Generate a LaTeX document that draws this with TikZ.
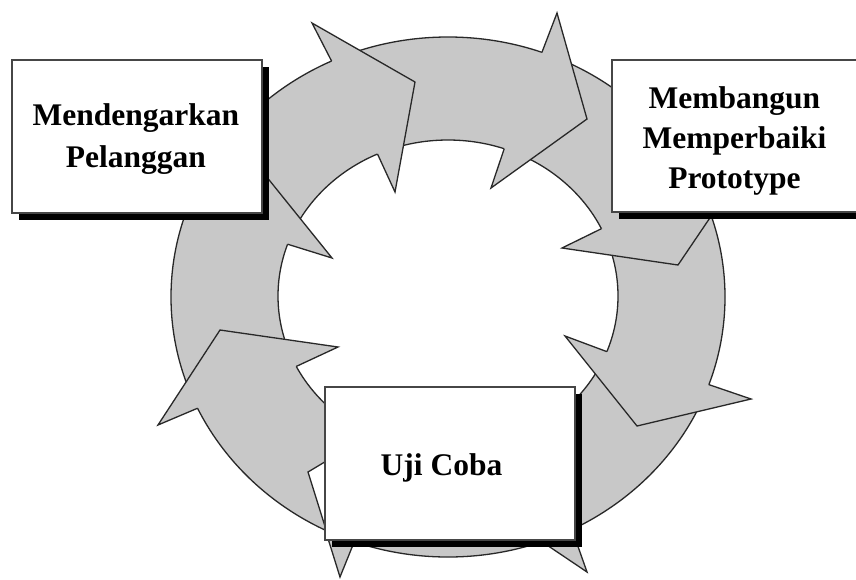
\documentclass[tikz,border=0pt]{standalone}
\usepackage{fontspec}
\setmainfont{Liberation Serif}
\usetikzlibrary{shadows}
\definecolor{ringgray}{RGB}{200,200,200}
\definecolor{edgecol}{RGB}{40,40,40}
\definecolor{boxedge}{RGB}{70,70,70}
\tikzset{
  ringfill/.style={fill=ringgray},
  ringline/.style={draw=edgecol, line width=1.3pt, miter limit=4},
  headshape/.style={fill=ringgray, draw=edgecol, line width=1.3pt, miter limit=4},
  boxframe/.style={draw=boxedge, fill=white, line width=1.6pt, inner sep=0pt,
    drop shadow={shadow xshift=7pt, shadow yshift=-7pt, fill=black, opacity=1}},
  label/.style={font=\fontsize{31.5}{40}\selectfont\bfseries, inner sep=0pt, align=center, text=black},
}
\begin{document}
\begin{tikzpicture}[x=1pt,y=-1pt]
\clip (0,0) rectangle (856,579);
\fill[white] (0,0) rectangle (856,579);
% ring band
\path[ringfill, even odd rule] (448,297) ellipse [x radius=277pt, y radius=260pt]
      (448,296) ellipse [x radius=170pt, y radius=156pt];
\draw[ringline] (448,297) ellipse [x radius=277pt, y radius=260pt];
\draw[ringline] (448,296) ellipse [x radius=170pt, y radius=156pt];
% arrow heads (open outline, filled)
\filldraw[headshape] (331.6,61.1) -- (312,23) -- (415,82) -- (395,192) -- (377.5,154);
\filldraw[headshape] (541.9,52.4) -- (557,13) -- (587,119) -- (491,188) -- (504.2,148.8);
\filldraw[headshape] (707.1,205) -- (722,200) -- (678,265) -- (562,248) -- (601.4,228.7);
\filldraw[headshape] (708.8,384.6) -- (751,399) -- (637,426) -- (565,336) -- (606.8,351.6);
\filldraw[headshape] (572,529.5) -- (587,572) -- (480,500) -- (560,398) -- (540,427.2);
\filldraw[headshape] (197.6,408.2) -- (158,425) -- (220,330) -- (338,347) -- (296.3,366.4);
\filldraw[headshape] (191,200) -- (150,195) -- (245,150) -- (332,258) -- (287.6,244.2);
% small pieces peeking out beside the lower box
\filldraw[headshape] (326.9,535) -- (340,577) -- (357,535) -- cycle;
\filldraw[fill=white, draw=edgecol, line width=1.3pt] (308,472) -- (335,455.8) -- (335,529) -- (326,529.6) -- cycle;
% boxes
\node[boxframe, minimum width=250pt, minimum height=153pt] (box1) at (137,136.5) {};
\node[boxframe, minimum width=248pt, minimum height=152pt] (box2) at (736,136) {};
\node[boxframe, minimum width=250pt, minimum height=153pt] (box3) at (450,463.5) {};
% texts
\node[label, font=\fontsize{31.5}{42}\selectfont\bfseries] (t1) at (136,138.8) {Mendengarkan\\Pelanggan};
\node[label] (t2) at (734.5,140.8) {Membangun\\Memperbaiki\\Prototype};
\node[label, anchor=base] (t3) at (441.5,475) {Uji Coba};
\end{tikzpicture}
\end{document}
